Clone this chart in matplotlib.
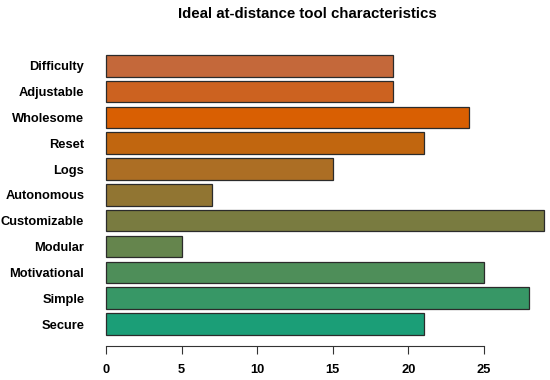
import matplotlib
matplotlib.use("Agg")
import matplotlib.pyplot as plt

plt.rcParams['font.family'] = ['Liberation Sans', 'DejaVu Sans']

# data, top to bottom as in the picture
labels = ["Difficulty", "Adjustable", "Wholesome", "Reset", "Logs", "Autonomous",
          "Customizable", "Modular", "Motivational", "Simple", "Secure"]
counts = [19, 19, 24, 21, 15, 7, 29, 5, 25, 28, 21]
colors = ["#C4683A", "#CC6220", "#D95F02", "#C1660F", "#AC6E24", "#917532",
          "#797B40", "#65854D", "#4E8E59", "#379766", "#1B9E77"]
xticks = [0, 5, 10, 15, 20, 25]
title = "Ideal at-distance tool characteristics"

W, H = 550, 380
fig = plt.figure(figsize=(W / 100, H / 100), dpi=100)

# plot region in pixels (R-style barplot layout)
left, right, top, bottom = 88.5, 549, 43.8, 346
ax = fig.add_axes([left / W, 1 - bottom / H, (right - left) / W, (bottom - top) / H])

# R barplot positions: width 1, space 0.2
n = len(labels)
ypos = [0.2 + 0.5 + i * 1.2 for i in range(n)][::-1]
ax.barh(ypos, counts, height=1.0, color=colors, edgecolor="#2b2b2b",
        linewidth=0.9, clip_on=False)

ax.set_xlim(-1.16, 29.3)
ax.set_ylim(0.2 - 0.52, 0.2 + n * 1.2 - 0.2 + 0.52)

ax.set_yticks(ypos)
ax.set_yticklabels(labels, fontsize=9.3, fontweight="bold")
ax.tick_params(axis="y", length=0, pad=3)

ax.set_xticks(xticks)
ax.set_xticklabels([str(t) for t in xticks], fontsize=9.3, fontweight="bold")
ax.tick_params(axis="x", length=6, width=0.8, pad=7, color="#333333")

for s in ["top", "right", "left"]:
    ax.spines[s].set_visible(False)
ax.spines["bottom"].set_bounds(0, 25)
ax.spines["bottom"].set_linewidth(0.8)
ax.spines["bottom"].set_color("#333333")

fig.text(307.5 / W, 1 - 14 / H, title, ha="center", va="center",
         fontsize=10.8, fontweight="bold")

fig.savefig("out.png", dpi=100)
